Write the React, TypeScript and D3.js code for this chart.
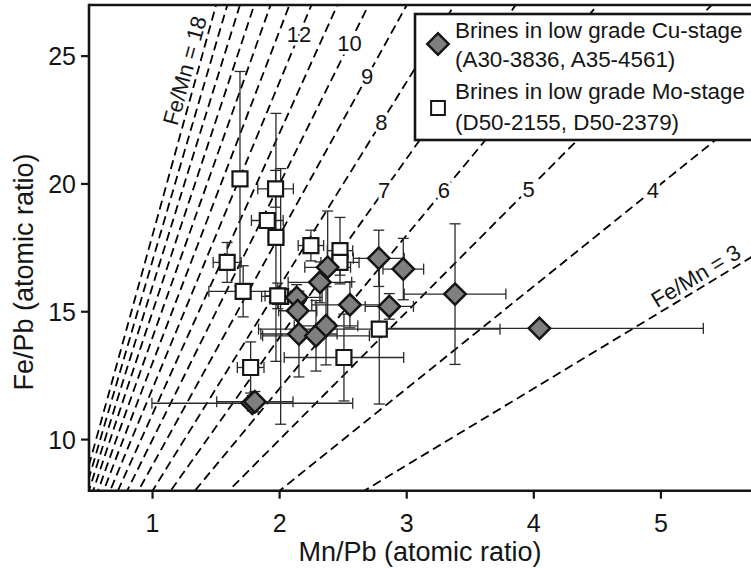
import React from 'react'
import * as d3 from 'd3'

// Fe/Mn reference ratios, drawn as dashed lines through the origin
const ratios = [3, 4, 5, 6, 7, 8, 9, 10, 11, 12, 13, 14, 15, 16, 17, 18]

// which lines carry a number, and the Fe/Pb level where it sits
const labelRatios = [12, 10, 9, 8, 7, 6, 5, 4]
const labelFePb = [25.83, 25.5, 24.2, 22.4, 19.75, 19.75, 19.8, 19.75]

const xTicks = [1, 2, 3, 4, 5]
const yTicks = [10, 15, 20, 25]

// Brines in low grade Cu-stage (A30-3836, A35-4561)
const cuMnPb = [2.378, 2.317, 2.78, 2.973, 2.134, 2.142, 2.553, 2.863, 2.152, 2.286, 2.365, 3.38, 4.044, 1.785, 1.805]
const cuFePb = [16.74, 16.15, 17.09, 16.67, 15.56, 15.04, 15.27, 15.21, 14.13, 14.06, 14.45, 15.69, 14.35, 11.42, 11.48]
const cuMnErr = [0.18, 0.25, 0.2, 0.16, 0.2, 0.15, 0.3, 0.19, 0.3, 0.42, 0.25, 0.4, 1.29, 0.79, 0.3]
const cuFeErr = [2.2, 0.8, 1.1, 1.2, 0.5, 0.7, 0.9, 0.5, 1.68, 1.38, 1.53, 2.75, 0, 0.3, 0.4]

// Brines in low grade Mo-stage (D50-2155, D50-2379)
const moMnPb = [1.688, 1.968, 1.903, 1.971, 2.246, 2.475, 2.475, 1.587, 1.713, 2.008, 1.985, 2.784, 2.506, 1.772]
const moFePb = [20.2, 19.81, 18.57, 17.91, 17.59, 17.39, 16.93, 16.93, 15.8, 15.6, 15.62, 14.32, 13.21, 12.82]
const moMnErr = [0, 0.14, 0.125, 0.06, 0.1, 0.1, 0.15, 0.11, 0.27, 0.15, 0.1, 0.95, 0.47, 0.105]
const moFeErr = [4.2, 0.72, 0.3, 4.85, 0.6, 1.3, 0.5, 0.78, 1.0, 5.0, 0.5, 2.93, 1.7, 1.0]

const FONT = '"Liberation Sans", Arial, Helvetica, sans-serif'
const INK = '#151515'

const width = 751
const height = 568
const plot = { left: 89, right: 788, top: 5, bottom: 490.7 }

// error bars with end caps for one series
function ErrorBars({ xs, ys, xe, ye, x, y }) {
  const cap = 5.5
  return (
    <g stroke="#2a2a2a" strokeWidth={1.3} fill="none">
      {xs.map((d, i) => {
        const cx = x(d)
        const cy = y(ys[i])
        const parts = []
        if (xe[i] > 0) {
          const x0 = x(d - xe[i])
          const x1 = x(d + xe[i])
          parts.push(<line key="h" x1={x0} x2={x1} y1={cy} y2={cy} />)
          parts.push(<line key="hl" x1={x0} x2={x0} y1={cy - cap} y2={cy + cap} />)
          parts.push(<line key="hr" x1={x1} x2={x1} y1={cy - cap} y2={cy + cap} />)
        }
        if (ye[i] > 0) {
          const y0 = y(ys[i] - ye[i])
          const y1 = y(ys[i] + ye[i])
          parts.push(<line key="v" x1={cx} x2={cx} y1={y0} y2={y1} />)
          parts.push(<line key="vb" x1={cx - cap} x2={cx + cap} y1={y0} y2={y0} />)
          parts.push(<line key="vt" x1={cx - cap} x2={cx + cap} y1={y1} y2={y1} />)
        }
        return <g key={i}>{parts}</g>
      })}
    </g>
  )
}

export default function App() {
  const x = d3.scaleLinear().domain([0.5, 6]).range([plot.left, plot.right])
  const y = d3.scaleLinear().domain([8, 27]).range([plot.bottom, plot.top])

  const line = d3.line<[number, number]>()
    .x(d => x(d[0]))
    .y(d => y(d[1]))

  const square = d3.symbol(d3.symbolSquare, 225)()
  const diamond = d3.symbol(d3.symbolSquare, 230)()

  // screen angle of a ratio line
  const angle = (k: number) => {
    const dx = x(1) - x(0)
    const dy = y(0) - y(k)
    return -Math.atan2(dy, dx) * 180 / Math.PI
  }

  const lab18 = { fe: 24.3, k: 18 }
  const lab3 = { fe: 14.97, k: 3 }

  return (
    <svg width={width} height={height}
      style={{ position: 'absolute', left: 0, top: 0, display: 'block', background: '#fff' }}
      fontFamily={FONT}>
      <defs>
        <clipPath id="plot-area">
          <rect x={plot.left} y={plot.top} width={plot.right - plot.left} height={plot.bottom - plot.top} />
        </clipPath>
      </defs>

      {/* Fe/Mn ratio lines */}
      <g clipPath="url(#plot-area)" fill="none" stroke="#000" strokeWidth={1.8} strokeDasharray="9,5">
        {ratios.map(k => (
          <path key={k} d={line([[0, 0], [6, 6 * k]])} />
        ))}
      </g>

      {/* ratio numbers, with a white halo cutting the line */}
      <g fontSize={22} fill={INK} textAnchor="middle" dominantBaseline="central">
        {labelRatios.map((k, i) => (
          <text key={k} x={x(labelFePb[i] / k)} y={y(labelFePb[i])}
            stroke="#fff" strokeWidth={7} paintOrder="stroke" strokeLinejoin="round">{k}</text>
        ))}
      </g>
      <text fontSize={22} fill={INK} textAnchor="middle" dy={-5}
        transform={`translate(${x(lab18.fe / lab18.k)},${y(lab18.fe)}) rotate(${angle(18)})`}>
        Fe/Mn = 18
      </text>
      <text fontSize={22} fill={INK} textAnchor="start" dy={-5}
        transform={`translate(${x(lab3.fe / lab3.k)},${y(lab3.fe)}) rotate(${angle(3)})`}>
        Fe/Mn = 3
      </text>

      {/* data */}
      <ErrorBars xs={moMnPb} ys={moFePb} xe={moMnErr} ye={moFeErr} x={x} y={y} />
      <ErrorBars xs={cuMnPb} ys={cuFePb} xe={cuMnErr} ye={cuFeErr} x={x} y={y} />
      <g fill="#fff" stroke={INK} strokeWidth={2.2}>
        {moMnPb.map((d, i) => (
          <path key={i} d={square} transform={`translate(${x(d)},${y(moFePb[i])})`} />
        ))}
      </g>
      <g fill="#7f7f7f" stroke={INK} strokeWidth={2.5}>
        {cuMnPb.map((d, i) => (
          <path key={i} d={diamond} transform={`translate(${x(d)},${y(cuFePb[i])}) rotate(45)`} />
        ))}
      </g>

      {/* frame */}
      <g stroke={INK} strokeWidth={2.6} fill="none">
        <line x1={plot.left} x2={plot.right} y1={plot.top} y2={plot.top} />
        <line x1={plot.left} x2={plot.left} y1={plot.top - 1.3} y2={plot.bottom + 1.3} />
        <line x1={plot.left} x2={plot.right} y1={plot.bottom} y2={plot.bottom} />
      </g>

      {/* y axis */}
      <g fontSize={25} fill={INK}>
        {yTicks.map(t => (
          <g key={t}>
            <line x1={plot.left - 8} x2={plot.left} y1={y(t)} y2={y(t)} stroke={INK} strokeWidth={2.2} />
            <text x={plot.left - 13} y={y(t)} textAnchor="end" dominantBaseline="central">{t}</text>
          </g>
        ))}
      </g>
      {/* x axis */}
      <g fontSize={25} fill={INK}>
        {xTicks.map(t => (
          <g key={t}>
            <line x1={x(t)} x2={x(t)} y1={plot.bottom} y2={plot.bottom + 8} stroke={INK} strokeWidth={2.2} />
            <text x={x(t)} y={plot.bottom + 41} textAnchor="middle">{t}</text>
          </g>
        ))}
      </g>
      <text x={420} y={561} fontSize={27} fill={INK} textAnchor="middle">Mn/Pb (atomic ratio)</text>
      <text transform="translate(24,272) rotate(-90)" fontSize={27} fill={INK}
        textAnchor="middle" dominantBaseline="central">Fe/Pb (atomic ratio)</text>

      {/* legend */}
      <g>
        <rect x={415} y={14} width={400} height={126} fill="#fff" stroke={INK} strokeWidth={2.6} />
        <path d={diamond} transform="translate(438,44) rotate(45)" fill="#7f7f7f" stroke={INK} strokeWidth={2.5} />
        <path d={d3.symbol(d3.symbolSquare, 190)()} transform="translate(438,108)" fill="#fff" stroke={INK} strokeWidth={2} />
        <g fontSize={22.4} fill={INK}>
          <text x={455} y={38}>Brines in low grade Cu-stage</text>
          <text x={455} y={67}>(A30-3836, A35-4561)</text>
          <text x={455} y={99}>Brines in low grade Mo-stage</text>
          <text x={455} y={130}>(D50-2155, D50-2379)</text>
        </g>
      </g>
    </svg>
  )
}
